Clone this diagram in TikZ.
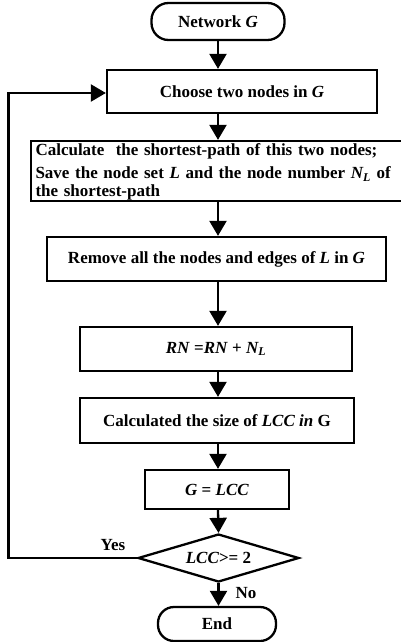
\documentclass[tikz,border=0pt]{standalone}
\usepackage{fontspec}
\setmainfont{Liberation Serif}
\usetikzlibrary{shapes.geometric,arrows.meta}
\begin{document}
\begin{tikzpicture}[x=1pt,y=-1pt,
  every node/.style={font=\fontsize{17}{20}\selectfont\bfseries, inner sep=0pt},
  box/.style={draw, line width=2.3pt, rectangle, align=center},
  term/.style={draw, line width=2.3pt, rectangle, rounded corners=17pt, align=center},
  dec/.style={draw, line width=2.3pt, diamond, aspect=3.35, align=center},
  flow/.style={line width=2.3pt, -{Triangle[width=17pt,length=15pt]}},
  lbl/.style={font=\fontsize{17}{18}\selectfont\bfseries}
]
\useasboundingbox (0,0) rectangle (401,642);
\node[term, minimum width=133pt, minimum height=37pt] (net) at (218,21.5) {Network \textit{G}};
\node[box, minimum width=270pt, minimum height=43pt] (choose) at (242,91.5) {Choose two nodes in \textit{G}};
\node[box, minimum width=372pt, minimum height=60pt, text width=363pt, align=left] (calc) at (217,171)
  {\rule{0pt}{14pt}Calculate\ \ the shortest-path of this two nodes;\\[3pt]
   Save the node set\ \textit{L} and the node number \textit{N\textsubscript{L}} of\\[-2pt]
   the shortest-path};
\node[box, minimum width=339pt, minimum height=44pt] (remove) at (216.5,259) {Remove all the nodes and edges of \textit{L} in \textit{G}};
\node[box, minimum width=272pt, minimum height=44pt] (rn) at (216,349) {\textit{RN} =\textit{RN} + \textit{N\textsubscript{L}}};
\node[box, minimum width=274pt, minimum height=45pt] (lcc) at (217,420.5) {Calculated the size of \textit{LCC in} G};
\node[box, minimum width=144pt, minimum height=39pt] (g) at (217,489.5) {\textit{G} = \textit{LCC}};
\node[dec, minimum width=161pt, minimum height=48pt] (d) at (218.5,558) {\textit{LCC}>= 2};
\node[term, minimum width=118pt, minimum height=34pt, rounded corners=16pt] (end) at (217,624) {End};
\coordinate (c1) at (8.5,558);
\coordinate (c2) at (8.5,93);
\draw[flow] (net.south) -- (net.south |- choose.north);
\draw[flow] (net.south |- choose.south) -- (net.south |- calc.north);
\draw[flow] (net.south |- calc.south) -- (net.south |- remove.north);
\draw[flow] (net.south |- remove.south) -- (net.south |- rn.north);
\draw[flow] (net.south |- rn.south) -- (net.south |- lcc.north);
\draw[flow] (net.south |- lcc.south) -- (net.south |- g.north);
\draw[flow] (net.south |- g.south) -- (d.north);
\draw[flow] (d.south) -- (d.south |- end.north);
\draw[flow] (d.west) -- (c1) -- (c2) -- (c2 -| choose.west);
\node[lbl] (yes) at (113,545) {Yes};
\node[lbl] (no) at (246,593) {No};
\end{tikzpicture}
\end{document}
